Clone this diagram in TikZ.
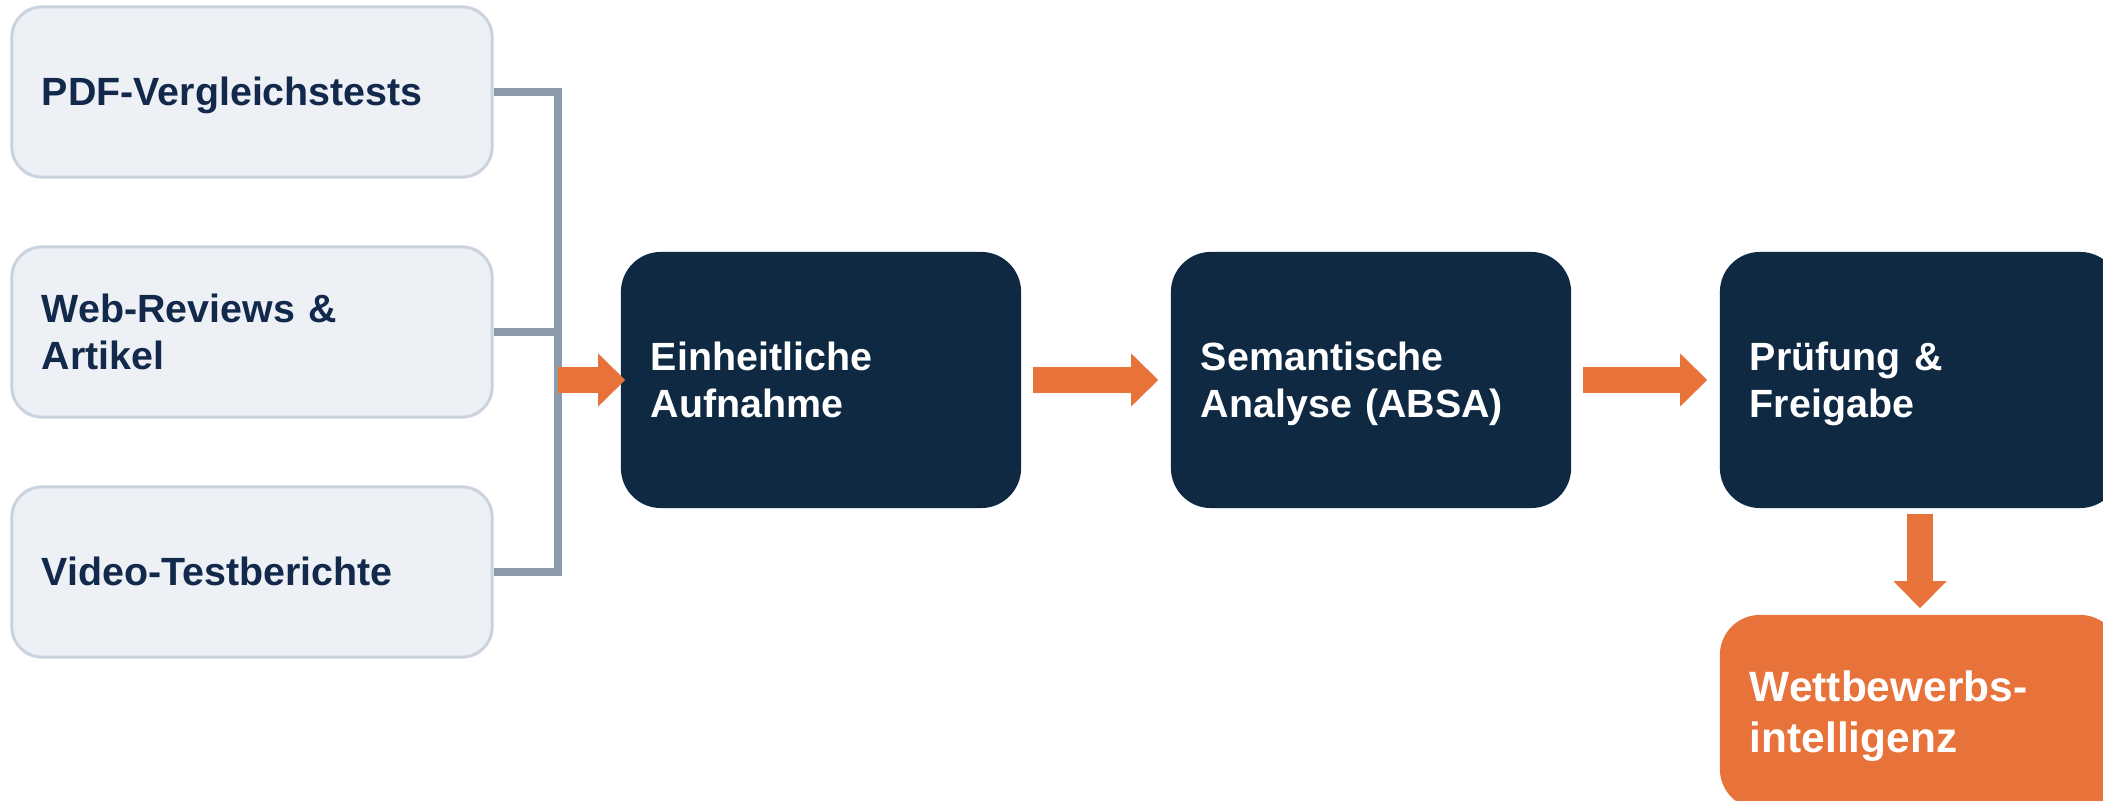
\documentclass[tikz,border=0pt]{standalone}
\usepackage{
	fontspec,			% Liberation Sans (Arial widths)
	tikz,
	xcolor
}
\usetikzlibrary{arrows.meta,calc}
\setmainfont{Liberation Sans}

\definecolor{navy}{HTML}{0F2943}
\definecolor{inktext}{HTML}{13294B}
\definecolor{accent}{HTML}{E8733A}
\definecolor{srcfill}{HTML}{EDF1F6}
\definecolor{srcline}{HTML}{C9D3E0}
\definecolor{barline}{HTML}{8C9BAB}

% strut of one line box, 1.2em high
\newcommand\linestrut{\rule[-2.83pt]{0pt}{13.44pt}}
\newcommand\bigstrut{\rule[-3.05pt]{0pt}{14.47pt}}

\begin{document}
\begin{tikzpicture}[x=0.01cm,y=-0.01cm,
		source/.style={draw=srcline,line width=0.03cm,fill=srcfill,rounded corners=0.3cm,
			text=inktext,align=left,text width=4.2cm,inner xsep=0.3cm,minimum height=1.7cm,
			font=\fontsize{11.2}{13.44}\selectfont\bfseries,
			execute at begin node=\linestrut,execute at end node=\linestrut},
		stage/.style={fill=navy,rounded corners=0.4cm,text=white,align=left,
			text width=3.4cm,inner xsep=0.3cm,minimum height=2.56cm,
			font=\fontsize{11.2}{13.44}\selectfont\bfseries,
			execute at begin node=\linestrut,execute at end node=\linestrut},
		result/.style={fill=accent,rounded corners=0.4cm,text=white,align=left,
			text width=3.4cm,inner xsep=0.3cm,minimum height=1.94cm,
			font=\fontsize{12.06}{14.47}\selectfont\bfseries,
			execute at begin node=\bigstrut,execute at end node=\bigstrut},
		bracket/.style={draw=barline,line width=0.078cm},
		flow/.style={draw=accent,line width=0.26cm,
			-{Triangle[width=0.53cm,length=0.27cm,line width=0pt]}}]

		% fix the frame of the picture
		\useasboundingbox (0,0) rectangle (2103,801);
		\clip (0,0) rectangle (2103,801);

		% draw the sources
		\foreach \y/\name/\xtext in {
			92/pdf/PDF-Vergleichstests,
			332/web/{Web-Reviews \&\\Artikel},
			572/video/Video-Testberichte}
		\node[source] (\name) at (252,\y) {\xtext};

		% draw the pipeline stages
		\foreach \x/\name/\xtext in {
			821/intake/{Einheitliche\\Aufnahme},
			1371/absa/{Semantische\\Analyse (ABSA)},
			1920/review/{Prüfung \&\\Freigabe}}
		\node[stage] (\name) at (\x,380) {\xtext};

		% the outcome
		\node[result] (intel) at (1920,712) {Wettbewerbs-\\intelligenz};

		% the bracket joining the sources
		\coordinate (bar) at (558,332);
		\foreach \name in {pdf,web,video}
		\draw[bracket] (\name.east) -- (\name.east -| bar);
		\draw[bracket,line cap=rect] (pdf.east -| bar) -- (video.east -| bar);

		% the arrows between the stages
		\draw[flow] (bar |- intake.west) -- ($(intake.west)+(5,0)$);
		\draw[flow] ($(intake.east)+(11,0)$) -- ($(absa.west)+(-12,0)$);
		\draw[flow] ($(absa.east)+(11,0)$) -- ($(review.west)+(-12,0)$);
		\draw[flow] ($(review.south)+(0,5)$) -- ($(intel.north)+(0,-6)$);
	\end{tikzpicture}
\end{document}
